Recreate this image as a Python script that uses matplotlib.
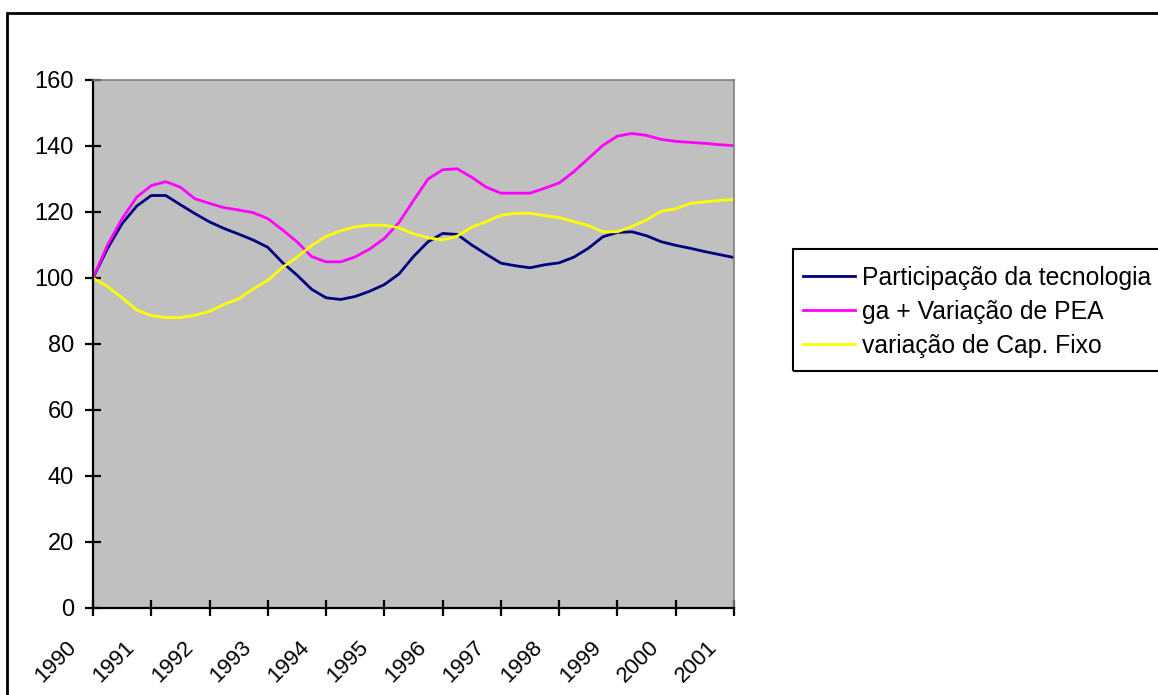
import matplotlib
matplotlib.use("Agg")
import matplotlib.pyplot as plt
from matplotlib.patches import Rectangle
from matplotlib.transforms import ScaledTranslation

# Quarterly data, 1990.0 to 2001.0
start_year = 1990
steps_per_year = 4
tick_labels = ["1990", "1991", "1992", "1993", "1994", "1995",
               "1996", "1997", "1998", "1999", "2000", "2001"]

participacao_tecnologia = [
    100.0, 109.0, 116.5, 121.8, 125.0, 125.0, 122.2, 119.5, 117.0, 115.0,
    113.3, 111.5, 109.3, 104.7, 100.9, 96.6, 94.0, 93.5, 94.4, 96.0,
    98.0, 101.2, 106.5, 111.0, 113.5, 113.2, 110.0, 107.2, 104.5, 103.7,
    103.1, 104.0, 104.6, 106.3, 109.0, 112.5, 113.8, 114.0, 112.8, 111.0,
    109.9, 109.0, 108.0, 107.1, 106.2]

ga_variacao_pea = [
    100.0, 110.0, 118.0, 124.5, 128.0, 129.2, 127.5, 124.0, 122.6, 121.3,
    120.6, 119.8, 118.0, 114.6, 111.0, 106.5, 104.9, 104.9, 106.4, 108.8,
    112.0, 116.8, 123.5, 130.0, 132.8, 133.1, 130.5, 127.5, 125.7, 125.7,
    125.7, 127.2, 128.8, 132.2, 136.2, 140.2, 143.0, 143.8, 143.2, 142.0,
    141.4, 141.1, 140.8, 140.4, 140.1]

variacao_cap_fixo = [
    100.0, 97.4, 94.0, 90.3, 88.6, 88.0, 88.0, 88.7, 89.9, 92.0,
    93.7, 96.7, 99.3, 103.2, 106.3, 109.8, 112.6, 114.3, 115.5, 116.0,
    116.0, 115.2, 113.4, 112.2, 111.5, 112.7, 115.4, 117.1, 119.0, 119.6,
    119.6, 118.9, 118.3, 117.1, 115.9, 114.0, 114.0, 115.6, 117.6, 120.2,
    121.0, 122.6, 123.1, 123.5, 123.8]

series_names = ["Participação da tecnologia", "ga + Variação de PEA",
                "variação de Cap. Fixo"]
series_colors = ["#000080", "#FF00FF", "#FFFF00"]

x = [start_year + i / steps_per_year for i in range(len(participacao_tecnologia))]

plt.rcParams['font.family'] = ['Liberation Sans', 'DejaVu Sans']

W, H = 1158, 695
fig = plt.figure(figsize=(W / 100, H / 100), dpi=100)
fig.patch.set_facecolor("white")

# outer frame (extends beyond right/bottom edge)
fig.patches.append(Rectangle((7 / W, -0.2), 2.0, (H - 13) / H + 0.2,
                             transform=fig.transFigure, fill=False,
                             edgecolor="black", linewidth=2.0, zorder=-2))
# legend frame (extends beyond right edge)
fig.patches.append(Rectangle((793 / W, (H - 371) / H), 1.0, 122 / H,
                             transform=fig.transFigure, fill=False,
                             edgecolor="black", linewidth=1.5, zorder=-1))

ax = fig.add_axes([93 / W, (H - 608) / H, 641 / W, 528 / H])
ax.set_facecolor("#C0C0C0")

for vals, name, col in zip([participacao_tecnologia, ga_variacao_pea, variacao_cap_fixo],
                           series_names, series_colors):
    ax.plot(x, vals, color=col, linewidth=2.0, label=name, solid_joinstyle="round")

ax.set_xlim(1990, 2001)
ax.set_ylim(0, 160)
ax.set_yticks(range(0, 161, 20))
ax.set_xticks([int(t) for t in tick_labels])
ax.set_xticklabels(tick_labels, rotation=45, ha="center", va="center",
                   rotation_mode="anchor")

for s in ["left", "bottom"]:
    ax.spines[s].set_color("black")
    ax.spines[s].set_linewidth(1.6)
for s in ["top", "right"]:
    ax.spines[s].set_color("#808080")
    ax.spines[s].set_linewidth(1.2)

ax.tick_params(axis="both", direction="inout", length=11.5, width=1.6,
               colors="black")
ax.tick_params(axis="y", pad=8, labelsize=17)
ax.tick_params(axis="x", pad=33, labelsize=16)
offset = ScaledTranslation(-37 / 100, 0, fig.dpi_scale_trans)
for lbl in ax.get_xticklabels():
    lbl.set_transform(lbl.get_transform() + offset)

leg = ax.legend(loc="upper left", bbox_to_anchor=(803 / W, 1 - 266 / H),
                bbox_transform=fig.transFigure, fontsize=17.8, frameon=False,
                handlelength=2.1, handletextpad=0.28, borderpad=0.0,
                labelspacing=0.4, borderaxespad=0)
for line in leg.get_lines():
    line.set_linewidth(2.0)

fig.savefig("out.png", dpi=100)
